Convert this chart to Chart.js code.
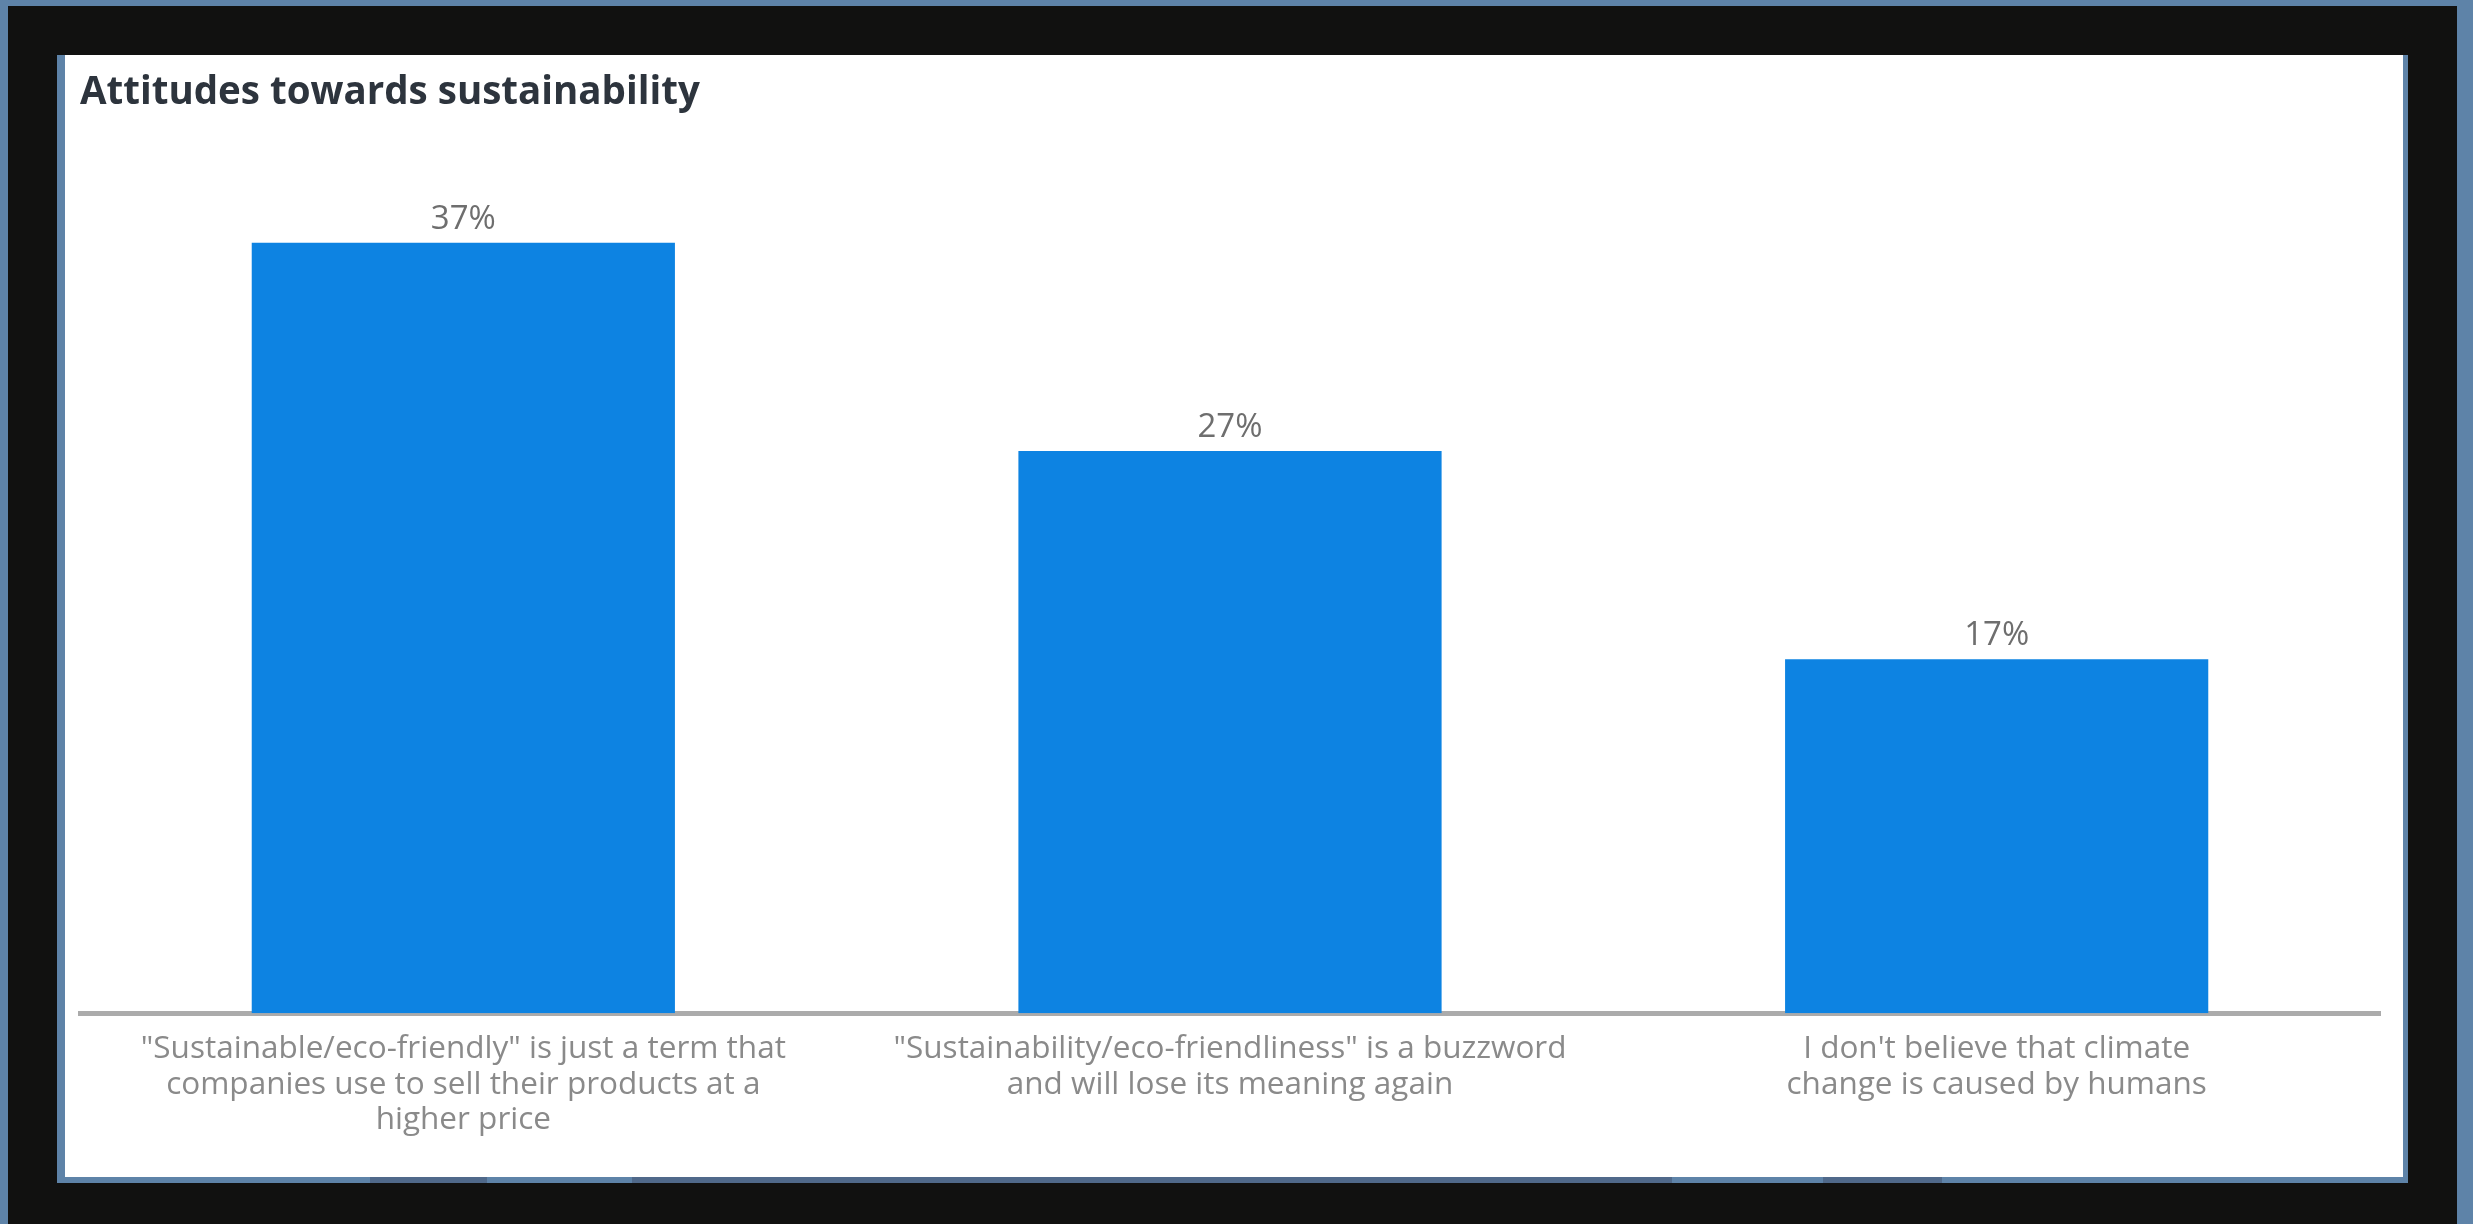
<!DOCTYPE html>
<html lang="en">
<head>
  <meta charset="UTF-8" />
  <title>Attitudes towards sustainability</title>
  <script src="https://cdn.jsdelivr.net/npm/chart.js"></script>
  <style>
    html, body {
      margin: 0;
      padding: 0;
      width: 2473px;
      height: 1224px;
      overflow: hidden;
      background: #5e83a8;
    }
    /* dark frame around the card */
    .frame {
      position: absolute;
      left: 8px;
      top: 6px;
      width: 2449px;
      height: 1218px;
      background: #111110;
    }
    .edge {
      position: absolute;
      left: 57px;
      top: 55px;
      width: 2351px;
      height: 1128px;
      background: #5e83a8;
    }
    /* darker bits along the bottom edge */
    .shade {
      position: absolute;
      top: 1177px;
      height: 6px;
      background: #50698a;
    }
    .card {
      position: absolute;
      left: 65px;
      top: 55px;
      width: 2338px;
      height: 1122px;
      background: #ffffff;
    }
  </style>
</head>
<body>
  <div class="frame"></div>
  <div class="edge"></div>
  <div class="shade" style="left:370px; width:117px;"></div>
  <div class="shade" style="left:632px; width:1040px;"></div>
  <div class="shade" style="left:1823px; width:119px;"></div>
  <div class="card">
    <canvas id="chart" width="2338" height="1122"></canvas>
  </div>

  <script>
    const categories = [
      ['"Sustainable/eco-friendly" is just a term that', 'companies use to sell their products at a', 'higher price'],
      ['"Sustainability/eco-friendliness" is a buzzword', 'and will lose its meaning again'],
      ["I don't believe that climate", 'change is caused by humans']
    ];
    const shares = [37, 27, 17];

    // draws the "37%" style labels over each bar
    const valueLabels = {
      id: 'valueLabels',
      afterDatasetsDraw(chart) {
        const ctx = chart.ctx;
        const meta = chart.getDatasetMeta(0);
        ctx.save();
        ctx.font = '33px "Open Sans"';
        ctx.fillStyle = '#6e6e6e';
        ctx.textAlign = 'center';
        ctx.textBaseline = 'bottom';
        meta.data.forEach((bar, i) => {
          ctx.fillText(shares[i] + '%', bar.x, bar.y - 7);
        });
        ctx.restore();
      }
    };

    new Chart(document.getElementById('chart'), {
      type: 'bar',
      data: {
        labels: categories,
        datasets: [{
          data: shares,
          backgroundColor: '#0d83e2',
          borderWidth: 0,
          categoryPercentage: 1,
          barPercentage: 0.552
        }]
      },
      options: {
        responsive: false,
        animation: false,
        layout: { padding: { left: 15, right: 23, top: 0, bottom: 21 } },
        plugins: {
          legend: { display: false },
          tooltip: { enabled: false },
          title: {
            display: true,
            text: 'Attitudes towards sustainability',
            align: 'start',
            color: '#2d343d',
            font: { family: 'Open Sans', size: 38.5, weight: 'bold', lineHeight: 1.2 },
            padding: { top: 15, bottom: 64 }
          }
        },
        scales: {
          x: {
            grid: { display: false, drawTicks: false },
            border: { display: true, color: '#ababab', width: 5 },
            ticks: {
              color: '#8a8a8a',
              padding: 18,
              maxRotation: 0,
              autoSkip: false,
              font: { family: 'Open Sans', size: 31.5, lineHeight: 1.13 }
            }
          },
          y: {
            display: false,
            min: 0,
            max: 40
          }
        }
      },
      plugins: [valueLabels]
    });
  </script>
</body>
</html>
